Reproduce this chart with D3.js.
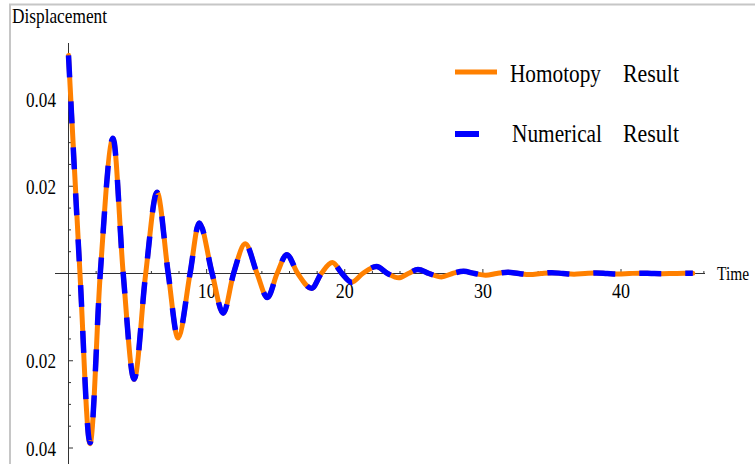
<!DOCTYPE html>
<html>
<head>
<meta charset="utf-8">
<script src="https://cdn.jsdelivr.net/npm/d3@7"></script>
<style>
  html, body { margin: 0; padding: 0; background: #fff; }
  svg { display: block; }
  text { font-family: "Liberation Serif", "Times New Roman", serif; fill: #000; }
</style>
</head>
<body>
<div id="chart"></div>
<script>
// values: extrema and zero crossings of the response
var time = [0, 0.83, 1.56, 2.3, 3.22, 3.96, 4.75, 5.59, 6.41, 7.22, 7.93, 8.8, 9.46, 10.4,
  11.2, 11.95, 12.8, 13.65, 14.4, 15.1, 15.8, 16.6, 17.6, 18.3, 19.1, 19.8, 20.5, 21.3,
  22.3, 23.1, 23.9, 24.6, 25.3, 26.1, 27.0, 27.8, 28.6, 29.4, 30.2, 31.0, 31.8, 32.6,
  33.4, 34.2, 35.0, 35.8, 36.6, 37.4, 38.2, 39.0, 39.8, 40.6, 41.4, 42.2, 43.0, 43.8, 44.6, 45.2];
var homotopy = [0.05, 0, -0.039, 0, 0.031, 0, -0.0243, 0, 0.0186, 0, -0.0148, 0, 0.0116, 0,
  -0.0091, 0, 0.0068, 0, -0.0055, 0, 0.0043, 0, -0.0034, 0, 0.0025, 0, -0.002, 0,
  0.0016, 0, -0.001, 0, 0.0009, 0, -0.0008, 0, 0.0005, 0, -0.0004, 0, 0.0003, 0,
  -0.00025, 0, 0.0002, 0, -0.00015, 0, 0.00012, 0, -0.0001, 0, 0.00008, 0, -0.00006, 0, 0.00005, 0.00003];
var numerical = [0.05, 0, -0.0388, 0, 0.031, 0, -0.0242, 0, 0.0186, 0, -0.0147, 0, 0.0116, 0,
  -0.0091, 0, 0.0068, 0, -0.0055, 0, 0.0043, 0, -0.0034, 0, 0.0025, 0, -0.002, 0,
  0.0016, 0, -0.001, 0, 0.0009, 0, -0.0008, 0, 0.0005, 0, -0.0004, 0, 0.0003, 0,
  -0.00025, 0, 0.0002, 0, -0.00015, 0, 0.00012, 0, -0.0001, 0, 0.00008, 0, -0.00006, 0, 0.00005, 0.00003];

var xTicks = [10, 20, 30, 40];
var yTicks = [-0.04, -0.02, 0.02, 0.04];
var seriesNames = ["Homotopy", "Numerical"];

var width = 755, height = 464;

var x = d3.scaleLinear().domain([0, 40]).range([68.5, 621]);
var y = d3.scaleLinear().domain([-0.04, 0.04]).range([448, 99]);

var svg = d3.select("#chart").append("svg")
  .attr("width", width)
  .attr("height", height);

// light frame (top + left edges visible)
svg.append("line").attr("x1", 9).attr("x2", width).attr("y1", 4.5).attr("y2", 4.5)
  .attr("stroke", "#c6c6c6").attr("stroke-width", 2);
svg.append("line").attr("x1", 10).attr("x2", 10).attr("y1", 4).attr("y2", height)
  .attr("stroke", "#c6c6c6").attr("stroke-width", 2);

// axes
var axisG = svg.append("g").attr("stroke", "#333").attr("stroke-width", 1);
axisG.append("line").attr("x1", 55).attr("x2", 705)
  .attr("y1", y(0)).attr("y2", y(0));
axisG.append("line").attr("x1", x(0)).attr("x2", x(0))
  .attr("y1", 43).attr("y2", height);

// minor ticks
var xMinor = d3.range(2, 47, 2).filter(function (d) { return d % 10 !== 0; });
axisG.selectAll(".xminor").data(xMinor).join("line")
  .attr("x1", function (d) { return x(d); }).attr("x2", function (d) { return x(d); })
  .attr("y1", y(0)).attr("y2", y(0) - 2.5);
var yMinor = d3.range(-8, 11).map(function (i) { return i * 0.005; })
  .filter(function (d) { return Math.abs(d) > 1e-9 && Math.round(d * 1000) % 20 !== 0; });
axisG.selectAll(".yminor").data(yMinor).join("line")
  .attr("x1", x(0)).attr("x2", x(0) + 2.5)
  .attr("y1", function (d) { return y(d); }).attr("y2", function (d) { return y(d); });

// major ticks
axisG.selectAll(".xmajor").data(xTicks).join("line")
  .attr("x1", function (d) { return x(d); }).attr("x2", function (d) { return x(d); })
  .attr("y1", y(0)).attr("y2", y(0) - 4.5);
axisG.selectAll(".ymajor").data(yTicks).join("line")
  .attr("x1", x(0)).attr("x2", x(0) + 4.5)
  .attr("y1", function (d) { return y(d); }).attr("y2", function (d) { return y(d); });

// tick labels (minus signs dropped as in the original figure)
svg.selectAll(".xlab").data(xTicks).join("text")
  .attr("x", function (d) { return x(d); })
  .attr("y", 298)
  .attr("text-anchor", "middle")
  .attr("font-size", 20)
  .attr("textLength", 18).attr("lengthAdjust", "spacingAndGlyphs")
  .text(function (d) { return d; });
svg.selectAll(".ylab").data(yTicks).join("text")
  .attr("x", 56)
  .attr("y", function (d) { return y(d) + 7.5; })
  .attr("text-anchor", "end")
  .attr("font-size", 21)
  .attr("textLength", 30).attr("lengthAdjust", "spacingAndGlyphs")
  .text(function (d) { return d3.format(".2f")(Math.abs(d)); });

svg.append("text").attr("x", 12).attr("y", 23)
  .attr("font-size", 21)
  .attr("textLength", 95).attr("lengthAdjust", "spacingAndGlyphs")
  .text("Displacement");
svg.append("text").attr("x", 717).attr("y", 280)
  .attr("font-size", 19)
  .attr("textLength", 32).attr("lengthAdjust", "spacingAndGlyphs")
  .text("Time");

// curves
var line = d3.line()
  .x(function (d) { return x(d.t); })
  .y(function (d) { return y(d.v); })
  .curve(d3.curveMonotoneX);

var homData = time.map(function (t, i) { return { t: t, v: homotopy[i] }; });
var numData = time.map(function (t, i) { return { t: t, v: numerical[i] }; });

svg.append("path").datum(homData)
  .attr("d", line)
  .attr("fill", "none")
  .attr("stroke", "#ff8000")
  .attr("stroke-width", 5)
  .attr("stroke-linecap", "round");
svg.append("path").datum(numData)
  .attr("d", line)
  .attr("fill", "none")
  .attr("stroke", "#0000ff")
  .attr("stroke-width", 5.5)
  .attr("stroke-dasharray", "22,24");

// legend
var legend = svg.append("g");
legend.append("line").attr("x1", 455).attr("x2", 497).attr("y1", 72).attr("y2", 72)
  .attr("stroke", "#ff8000").attr("stroke-width", 5);
legend.append("line").attr("x1", 455).attr("x2", 479).attr("y1", 134).attr("y2", 134)
  .attr("stroke", "#0000ff").attr("stroke-width", 6);

legend.append("text").attr("x", 510).attr("y", 82).attr("font-size", 25)
  .attr("textLength", 91).attr("lengthAdjust", "spacingAndGlyphs").text(seriesNames[0]);
legend.append("text").attr("x", 623).attr("y", 82).attr("font-size", 25)
  .attr("textLength", 56).attr("lengthAdjust", "spacingAndGlyphs").text("Result");
legend.append("text").attr("x", 512).attr("y", 142).attr("font-size", 25)
  .attr("textLength", 90).attr("lengthAdjust", "spacingAndGlyphs").text(seriesNames[1]);
legend.append("text").attr("x", 623).attr("y", 142).attr("font-size", 25)
  .attr("textLength", 56).attr("lengthAdjust", "spacingAndGlyphs").text("Result");
</script>
</body>
</html>
